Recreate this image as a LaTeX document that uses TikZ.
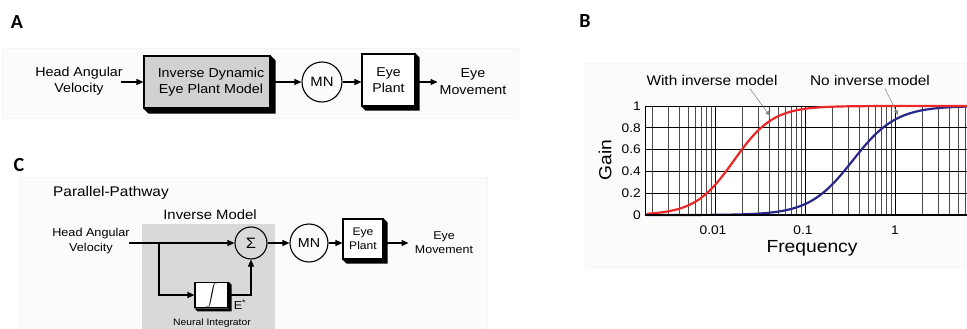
\documentclass[tikz,border=0pt]{standalone}
\usepackage{fontspec}
\setmainfont{Liberation Sans}[FakeStretch=1.1]
\newfontfamily\letterfont{Carlito}
\usetikzlibrary{arrows.meta,calc}
\newcommand{\fs}[1]{\fontsize{#1}{\fpeval{1.25*#1}}\selectfont}
\tikzset{
  arr/.style={-{Triangle[length=7pt,width=6pt]}, line width=1.1pt},
  blk/.style={draw, line width=1.1pt, inner sep=0pt, align=center},
  circ/.style={draw, circle, line width=1.1pt, inner sep=0pt, align=center},
  txt/.style={align=center, inner sep=1pt},
  panel/.style={fill=black!1.5, draw=black!4},
  letter/.style={font=\letterfont\bfseries\fontsize{20}{24}\selectfont, inner sep=0pt},
  grid major/.style={draw=black, line width=0.9pt},
  grid minor/.style={draw=black!70, line width=0.6pt},
  leader/.style={draw=black!45, line width=0.6pt, -{Triangle[length=5pt,width=4pt]}},
}
\newcommand{\boxshadow}[2]{%
  \fill[black] (#1.north east) -- ++(#2,#2) -- ($(#1.south east)+(#2,#2)$) -- ($(#1.south west)+(#2,#2)$) -- (#1.south west) -- (#1.south east) -- cycle;}
\begin{document}
\begin{tikzpicture}[x=1pt,y=-1pt]
\useasboundingbox (0,0) rectangle (967,329);
\fill[white] (0,0) rectangle (967,329);
% panel backgrounds
\path[panel] (2,48) rectangle (518,118);
\path[panel] (20,177) rectangle (487,329);
\path[panel] (585,63) rectangle (967,267);

% letters
\node[letter] (lA) at (17,22) {A};
\node[letter] (lB) at (585,21) {B};
\node[letter] (lC) at (19,165) {C};

% ---------- Panel A ----------
\node[txt, font=\fs{13}] (headA) at (79,81.5) {Head Angular\\Velocity};
\node[blk, fill=black!18, minimum width=126pt, minimum height=52pt, font=\fs{13}] (invA) at (207,82) {\hspace*{8pt}Inverse Dynamic\\\hspace*{8pt}Eye Plant Model};
\boxshadow{invA}{5}
\node[circ, minimum size=40pt, font=\fs{13.5}] (mnA) at (322,82) {MN};
\node[blk, fill=white, minimum width=53pt, minimum height=52pt, font=\fs{12.8}] (eyeA) at (388.5,80) {Eye\\Plant};
\boxshadow{eyeA}{4}
\node[txt, font=\fs{13}] (movA) at (473,81.5) {Eye\\Movement};
\draw[arr] (headA.east |- invA.west) ++(-3,0) coordinate (sA) (sA) -- (invA.west);
\draw[arr] (invA.east) -- (mnA.west);
\draw[arr] (mnA.east) -- (eyeA.west |- mnA.east);
\draw[arr] (eyeA.east |- mnA.east) -- ++(22,0) coordinate (eA);

% ---------- Panel C ----------
\node[anchor=west, inner sep=0pt, font=\fs{14}] (ppC) at (53,193) {Parallel-Pathway};
\fill[black!15] (142,224) rectangle (275,329);
\node[txt, font=\fs{13.5}] (imC) at (210,215) {Inverse Model};
\node[txt, font=\fs{11.5}] (headC) at (91,241) {Head Angular\\Velocity};
\node[circ, minimum size=32pt, font=\fs{15}] (sig) at (251,243) {Σ};
\node[blk, fill=white, minimum width=33pt, minimum height=24pt] (integ) at (211.5,295) {\scalebox{1.15}{$\displaystyle\int$}};
\boxshadow{integ}{3}
\node[inner sep=0pt, font=\fs{11.5}] (estar) at (240,305) {E\textsuperscript{*}};
\node[txt, font=\fs{9.4}] (niC) at (212,323) {Neural Integrator};
\node[circ, minimum size=38pt, font=\fs{13}] (mnC) at (309,243) {MN};
\node[blk, fill=white, minimum width=40pt, minimum height=40pt, font=\fs{11}] (eyeC) at (363,239) {Eye\\Plant};
\boxshadow{eyeC}{4}
\node[txt, font=\fs{11.3}] (movC) at (444,243) {Eye\\Movement};
\coordinate (junc) at (159,243);
\draw[line width=1.1pt] (headC.east |- sig.west) ++(-2,0) coordinate (sC) (sC) -- (junc);
\draw[arr] (junc) -- (sig.west);
\draw[arr] (junc) |- (integ.west);
\draw[arr] (integ.east) -| (sig.south);
\draw[arr] (sig.east) -- (mnC.west);
\draw[arr] (mnC.east) -- (eyeC.west |- mnC.east);
\draw[arr] (eyeC.east |- mnC.east) -- ++(25,0) coordinate (eC);

% ---------- Panel B ----------
\fill[white] (645,106) rectangle (967,215);
\begin{scope}
\clip (645,100) rectangle (967,216);
% vertical log grid
\foreach \d in {-3,-2,-1,0}{
  \foreach \k in {2,...,9}{
    \pgfmathsetmacro{\xx}{895+90*(\d+log10(\k))}
    \draw[grid minor] (\xx,106) -- (\xx,215);
  }
  \pgfmathsetmacro{\xm}{895+90*\d}
  \draw[grid major] (\xm,106) -- (\xm,215);
}
\foreach \i in {0,...,5}{
  \draw[grid major] (645,{215-21.8*\i}) -- (967,{215-21.8*\i});
}
\draw[draw={rgb,255:red,40;green,40;blue,140}, line width=2.2pt]
  plot[domain=-2.76:0.8, samples=120, smooth]
  ({895+90*\x}, {215-109*(pow(10,1.8*(\x+0.47))/(1+pow(10,1.8*(\x+0.47))))});
\draw[draw={rgb,255:red,235;green,40;blue,40}, line width=2.2pt]
  plot[domain=-2.76:0.8, samples=120, smooth]
  ({895+90*\x}, {215-109*(1/(1+pow(10,-2*(\x+1.79))))});
\end{scope}
\draw[line width=1pt] (645,106) -- (645,215);
\draw[line width=1.6pt] (645,215) -- (967,215);
% y tick labels
\foreach \v/\i in {0/0,0.2/1,0.4/2,0.6/3,0.8/4,1/5}{
  \node[anchor=east, inner sep=1pt, font=\fs{12.5}] at (642,{215-21.8*\i}) {\v};
}
\node[font=\fs{12.5}] (t1) at (713,230) {0.01};
\node[font=\fs{12.5}] (t2) at (803,230) {0.1};
\node[font=\fs{12.5}] (t3) at (895,230) {1};
\node[font=\fs{17.5}] (freq) at (812,248) {Frequency};
\node[font=\fs{17.5}, rotate=90] (gain) at (605,160) {Gain};
\node[font=\fs{14}] (wim) at (712,80) {With inverse model};
\node[font=\fs{14}] (nim) at (870,80) {No inverse model};
\coordinate (wimT) at (770,116);
\coordinate (nimT) at (898,115);
\draw[leader] (wim.south) ++(38,0) coordinate (wimS) (wimS) -- (wimT);
\draw[leader] (nim.south) ++(15,0) coordinate (nimS) (nimS) -- (nimT);
\end{tikzpicture}
\end{document}
